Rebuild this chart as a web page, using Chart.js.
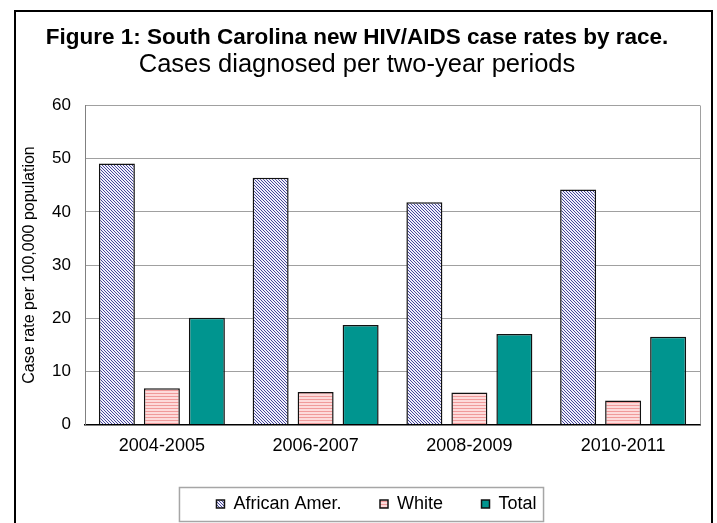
<!DOCTYPE html>
<html>
<head>
<meta charset="utf-8">
<script src="https://cdn.jsdelivr.net/npm/chart.js@4"></script>
<style>
  html, body { margin: 0; padding: 0; background: #fff; }
  #wrap { width: 717px; height: 523px; }
</style>
</head>
<body>
<div id="wrap"><canvas id="c" width="717" height="523"></canvas></div>
<script>
const categories = ['2004-2005', '2006-2007', '2008-2009', '2010-2011'];
const africanAmer = [49.1, 46.4, 41.8, 44.2];
const white = [6.8, 6.1, 6.0, 4.5];
const total = [20.1, 18.7, 17.0, 16.5];
const seriesNames = ['African Amer.', 'White', 'Total'];
const titleText = 'Figure 1: South Carolina new HIV/AIDS case rates by race.';
const subtitleText = 'Cases diagnosed per two-year periods';
const yTitleText = 'Case rate per 100,000 population';

const FONT = '"Liberation Sans", Arial, sans-serif';

function diagPattern() {
  const c = document.createElement('canvas');
  c.width = 3; c.height = 3;
  const g = c.getContext('2d');
  g.fillStyle = '#f0f0fb';
  g.fillRect(0, 0, 3, 3);
  g.fillStyle = '#46469a';
  for (let i = 0; i < 3; i++) g.fillRect(i, i, 1, 1);
  return g.createPattern(c, 'repeat');
}
function hStripePattern() {
  const c = document.createElement('canvas');
  c.width = 3; c.height = 3;
  const g = c.getContext('2d');
  g.fillStyle = '#fddada';
  g.fillRect(0, 0, 3, 3);
  g.fillStyle = '#f09a9a';
  g.fillRect(0, 0, 3, 1);
  return g.createPattern(c, 'repeat');
}

const frames = {
  id: 'frames',
  afterLayout(chart) {
    const lg = chart.legend;
    if (lg) { lg.left -= 16; lg.right -= 16; }
  },
  afterDraw(chart) {
    const ctx = chart.ctx;
    const a = chart.chartArea;
    ctx.save();
    // right edge of plot area
    ctx.strokeStyle = '#a0a0a0';
    ctx.lineWidth = 1;
    ctx.beginPath();
    ctx.moveTo(a.right + 0.5, a.top);
    ctx.lineTo(a.right + 0.5, a.bottom);
    ctx.stroke();
    // legend frame
    const lg = chart.legend;
    if (lg && lg.legendHitBoxes && lg.legendHitBoxes.length) {
      const hb = lg.legendHitBoxes;
      const l = hb[0].left - 37;
      const r = hb[hb.length - 1].left + hb[hb.length - 1].width + 7;
      const t = lg.top + 31, b = lg.top + 65;
      ctx.strokeStyle = '#a6a6a6';
      ctx.lineWidth = 1.5;
      ctx.strokeRect(l, t, r - l, b - t);
    }
    // outer border
    ctx.strokeStyle = '#000';
    ctx.lineWidth = 2;
    ctx.strokeRect(15, 11, 697, 600);
    ctx.restore();
  }
};

new Chart(document.getElementById('c'), {
  type: 'bar',
  data: {
    labels: categories,
    datasets: [
      { label: seriesNames[0], data: africanAmer, backgroundColor: diagPattern(), borderColor: '#111', borderWidth: 1.5 },
      { label: seriesNames[1], data: white, backgroundColor: hStripePattern(), borderColor: '#111', borderWidth: 1.5 },
      { label: seriesNames[2], data: total, backgroundColor: '#00958f', borderColor: '#111', borderWidth: 1.5 }
    ]
  },
  options: {
    responsive: false,
    animation: false,
    events: [],
    layout: { padding: { top: 9, left: 14, right: 17, bottom: 0 } },
    datasets: { bar: { categoryPercentage: 0.878, barPercentage: 0.8 } },
    plugins: {
      title: {
        display: true, text: titleText, color: '#000',
        font: { family: FONT, size: 22.5, weight: 'bold', lineHeight: 1 },
        padding: { top: 18, bottom: 3 }
      },
      subtitle: {
        display: true, text: subtitleText, color: '#000',
        font: { family: FONT, size: 25.5, weight: 'normal', lineHeight: 1 },
        padding: { top: 0, bottom: 27.5 }
      },
      legend: {
        position: 'bottom',
        fullSize: false,
        labels: {
          color: '#000',
          font: { family: FONT, size: 18 },
          boxWidth: 8, boxHeight: 8,
          padding: 38.5
        }
      },
      tooltip: { enabled: false }
    },
    scales: {
      x: {
        grid: { display: false, drawTicks: false },
        border: { display: true, color: '#000', width: 1.5 },
        ticks: { color: '#000', font: { family: FONT, size: 18 }, padding: 11 },
        afterFit(s) { s.height = 32; }
      },
      y: {
        min: 0, max: 60,
        ticks: { stepSize: 10, color: '#000', font: { family: FONT, size: 17 }, padding: 14 },
        grid: { color: '#a0a0a0', lineWidth: 1, drawTicks: false },
        border: { display: true, color: '#808080', width: 1 },
        title: {
          display: true, text: yTitleText, color: '#000',
          font: { family: FONT, size: 16 }, padding: { top: 6.4, bottom: 0 }
        },
        afterFit(s) { s.width = 71; }
      }
    }
  },
  plugins: [frames]
});
</script>
</body>
</html>
